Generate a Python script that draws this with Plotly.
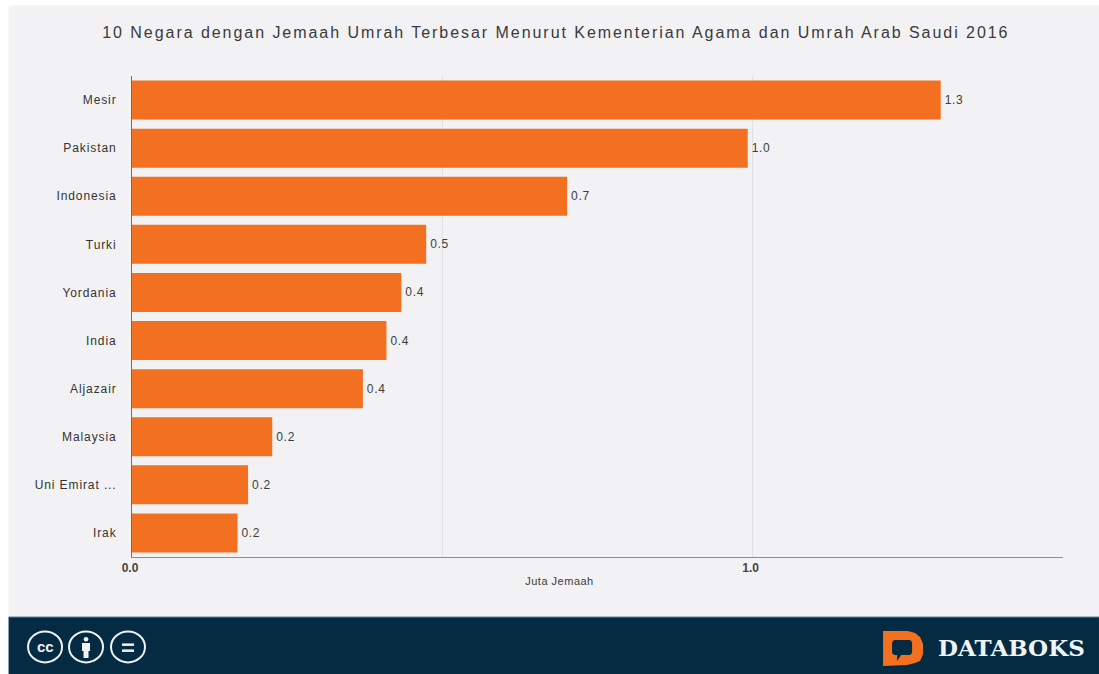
import plotly.graph_objects as go

countries = ["Mesir", "Pakistan", "Indonesia", "Turki", "Yordania", "India",
             "Aljazair", "Malaysia", "Uni Emirat ...", "Irak"]
pilgrims_million = [1.303, 0.992, 0.701, 0.474, 0.434, 0.41, 0.372, 0.226, 0.187, 0.17]
x_tick_values = [0, 0.5, 1.0]
x_tick_labels = ["<b>0.0</b>", "", "<b>1.0</b>"]

WIDTH, HEIGHT = 1099, 674
LEFT, RIGHT, TOP, BOTTOM = 131.5, 1063, 75.5, 557
ORANGE = "#f37021"
NAVY = "#052b42"
PANEL = "#f2f2f4"
ICON = "#eef2f3"
FONT = "Liberation Sans"


def fx(x):
    return (x - LEFT) / (RIGHT - LEFT)


def fy(y):
    return (BOTTOM - y) / (BOTTOM - TOP)


def page_shape(kind, x0, y0, x1, y1, **style):
    return dict(type=kind, xref="paper", yref="paper", layer="below",
                x0=fx(x0), x1=fx(x1), y0=fy(y0), y1=fy(y1), **style)


def page_path(points, color):
    segments = " L ".join(f"{fx(x):.5f} {fy(y):.5f}" for x, y in points)
    return dict(type="path", xref="paper", yref="paper", layer="below",
                path=f"M {segments} Z", fillcolor=color, line_width=0)


def page_label(text, x, y, size, color, family=FONT):
    return dict(text=text, xref="paper", yref="paper", showarrow=False,
                x=fx(x), y=fy(y), xanchor="center", yanchor="middle",
                font=dict(size=size, color=color, family=family))


fig = go.Figure(go.Bar(
    x=pilgrims_million,
    y=countries,
    orientation="h",
    marker=dict(color=ORANGE, line_width=0),
    texttemplate="%{x:.1f}",
    textposition="outside",
    textfont=dict(size=12, color="#3c3c3c", family=FONT),
    cliponaxis=False,
    hoverinfo="skip",
))

# Page panel and footer band
shapes = [
    page_shape("rect", 8, 5, 1099, 617, fillcolor=PANEL, line_width=0),
    page_shape("rect", 8, 617, 1099, 674, fillcolor=NAVY, line_width=0),
    page_shape("line", 8, 617, 1099, 617, line=dict(color="#5f93a6", width=1)),
]
# Licence icons
for cx in (44.5, 85.5, 127.5):
    shapes.append(page_shape("circle", cx - 17, 631.5, cx + 17, 662.5,
                             fillcolor="rgba(0,0,0,0)",
                             line=dict(color=ICON, width=2)))
shapes += [
    page_shape("circle", 83.2, 637, 87.8, 641.5, fillcolor=ICON, line_width=0),
    page_path([(81.5, 643), (89.5, 643), (89.5, 651), (88, 651), (88, 658),
               (83, 658), (83, 651), (81.5, 651)], ICON),
    page_shape("rect", 121.5, 643.5, 133.5, 646, fillcolor=ICON, line_width=0),
    page_shape("rect", 121.5, 649.5, 133.5, 652, fillcolor=ICON, line_width=0),
]
# Brand mark: an orange D holding a speech bubble
shapes += [
    page_path([(883, 631), (908, 631), (915, 633), (920, 637), (923, 644),
               (923, 654), (920, 661), (915, 663), (907, 665), (883, 666)], ORANGE),
    page_path([(894, 640), (910, 640), (912, 642), (912, 653), (910, 655),
               (901, 655), (897, 661), (897, 655), (894, 655), (892, 653),
               (892, 642)], NAVY),
]

annotations = [
    page_label("10 Negara dengan Jemaah Umrah Terbesar Menurut Kementerian Agama dan Umrah Arab Saudi 2016",
               555.5, 32, 16, "#3a3a3a"),
    page_label("Juta Jemaah", 559, 581, 11, "#3c3c3c"),
    page_label("<b>cc</b>", 44.5, 646.5, 15, ICON),
    page_label("<b>DATABOKS</b>", 1011, 648, 23, "#f0f4f5", family="DejaVu Serif"),
]

fig.update_layout(
    width=WIDTH,
    height=HEIGHT,
    autosize=False,
    margin=dict(l=LEFT, r=WIDTH - RIGHT, t=TOP, b=HEIGHT - BOTTOM, pad=0),
    paper_bgcolor="white",
    plot_bgcolor=PANEL,
    showlegend=False,
    bargap=0.19,
    font=dict(family=FONT),
    shapes=shapes,
    annotations=annotations,
    xaxis=dict(
        range=[0, 1.5],
        tickvals=x_tick_values,
        ticktext=x_tick_labels,
        tickfont=dict(size=12, color="#444444", family=FONT),
        ticklabelshift=-2,
        showgrid=True,
        gridcolor="#e0e0e2",
        gridwidth=1,
        zeroline=False,
        showline=True,
        linecolor="#8a8f96",
        linewidth=1,
        ticks="",
        fixedrange=True,
    ),
    yaxis=dict(
        categoryorder="array",
        categoryarray=countries[::-1],
        tickfont=dict(size=12, color="#333333", family=FONT),
        ticklabelstandoff=12,
        showgrid=False,
        zeroline=False,
        showline=True,
        linecolor="#6a6f76",
        linewidth=1,
        ticks="",
        fixedrange=True,
    ),
)

# The design uses tracked-out lettering, which layout fonts cannot express
tracking = """
var gd = document.getElementById('{plot_id}');
gd.querySelectorAll('.ytick text').forEach(function (el) {
  el.style.letterSpacing = '0.9px';
});
gd.querySelectorAll('.bartext').forEach(function (el) {
  el.style.letterSpacing = '0.7px';
  el.setAttribute('dx', '2');
});
var notes = gd.querySelectorAll('.annotation-text');
notes[0].style.letterSpacing = '1.95px';
notes[1].style.letterSpacing = '0.5px';
"""

fig.write_html("out.html", config=dict(displayModeBar=False), post_script=tracking)
